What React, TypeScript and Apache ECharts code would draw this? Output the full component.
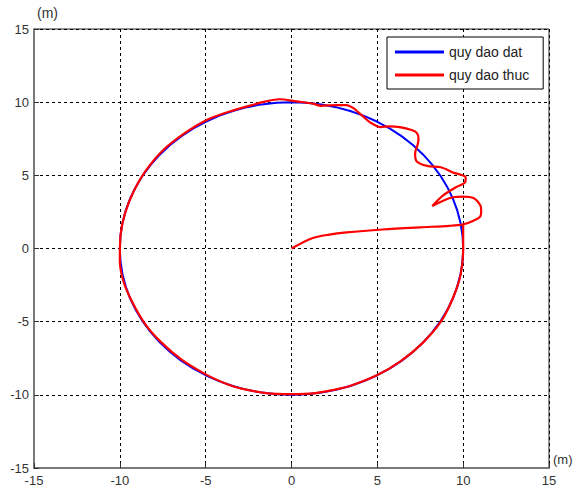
import React, { useEffect, useRef } from "react";
import * as echarts from "echarts";

// Axis ticks
const xTicks = [-15, -10, -5, 0, 5, 10, 15];
const yTicks = [-15, -10, -5, 0, 5, 10, 15];

// Desired trajectory "quy dao dat" (circle of radius 10, 5° steps)
const datX = [
  10, 9.962, 9.848, 9.659, 9.397, 9.063, 8.66, 8.192, 7.66, 7.071, 6.428, 5.736, 5.0, 4.226, 3.42, 2.588, 1.736, 0.872,
  0, -0.872, -1.736, -2.588, -3.42, -4.226, -5.0, -5.736, -6.428, -7.071, -7.66, -8.192, -8.66, -9.063, -9.397, -9.659, -9.848, -9.962,
  -10, -9.962, -9.848, -9.659, -9.397, -9.063, -8.66, -8.192, -7.66, -7.071, -6.428, -5.736, -5.0, -4.226, -3.42, -2.588, -1.736, -0.872,
  0, 0.872, 1.736, 2.588, 3.42, 4.226, 5.0, 5.736, 6.428, 7.071, 7.66, 8.192, 8.66, 9.063, 9.397, 9.659, 9.848, 9.962, 10,
];
const datY = [
  0, 0.872, 1.736, 2.588, 3.42, 4.226, 5.0, 5.736, 6.428, 7.071, 7.66, 8.192, 8.66, 9.063, 9.397, 9.659, 9.848, 9.962,
  10, 9.962, 9.848, 9.659, 9.397, 9.063, 8.66, 8.192, 7.66, 7.071, 6.428, 5.736, 5.0, 4.226, 3.42, 2.588, 1.736, 0.872,
  0, -0.872, -1.736, -2.588, -3.42, -4.226, -5.0, -5.736, -6.428, -7.071, -7.66, -8.192, -8.66, -9.063, -9.397, -9.659, -9.848, -9.962,
  -10, -9.962, -9.848, -9.659, -9.397, -9.063, -8.66, -8.192, -7.66, -7.071, -6.428, -5.736, -5.0, -4.226, -3.42, -2.588, -1.736, -0.872, 0,
];

// Actual trajectory "quy dao thuc"
const thucX = [
  0, 1.2, 2.2, 3.2, 5.3, 7.5, 9.2, 10.0, 10.6, 11.0, 11.05, 11.0, 10.6, 10.0, 9.4, 8.9, 8.2, 8.8, 9.6, 10.1, 10.15,
  9.4, 8.7, 7.9, 7.3, 7.2, 7.35, 7.4, 7.3, 7.0, 6.3, 5.7, 5.2, 4.6, 4.2, 3.9, 3.6, 3.2, 2.7, 1.7, 1.25, 0.3, -0.7,
  -1.5, -2.3, -3.5, -4.9, -6.2, -7.5, -8.5, -9.2, -9.7, -9.95, -10.0, -9.8, -9.3, -8.5, -7.6, -6.4, -5.0, -3.7, -3.0,
  -1.4, 0, 1.3, 2.5, 3.4, 5.0, 6.3, 7.6, 8.7, 9.4, 9.85, 10.0, 10.0, 10.0,
];
const thucY = [
  0, 0.7, 0.95, 1.1, 1.3, 1.45, 1.55, 1.65, 1.9, 2.2, 2.6, 2.95, 3.45, 3.55, 3.5, 3.3, 2.9, 3.6, 4.2, 4.5, 4.85,
  5.2, 5.55, 5.65, 5.95, 6.5, 7.1, 7.5, 7.9, 8.1, 8.3, 8.35, 8.3, 8.6, 9.0, 9.3, 9.6, 9.8, 9.8, 9.75, 9.9, 10.05, 10.2,
  10.05, 9.8, 9.4, 8.8, 7.9, 6.7, 5.3, 3.9, 2.4, 1.0, -0.8, -2.2, -3.6, -5.2, -6.4, -7.6, -8.6, -9.3, -9.55,
  -9.9, -9.95, -9.9, -9.65, -9.4, -8.65, -7.75, -6.5, -5.0, -3.4, -1.8, 0, 1.1, 1.6,
];

const seriesNames = ["quy dao dat", "quy dao thuc"];
const unitLabel = "(m)";

export default function App() {
  const ref = useRef<HTMLDivElement>(null);
  useEffect(() => {
    if (!ref.current) return;
    const chart = echarts.init(ref.current, undefined, { renderer: "svg" });
    const font = "'Liberation Sans', Arial, sans-serif";
    const axisCommon = {
      type: "value" as const,
      min: xTicks[0],
      max: xTicks[xTicks.length - 1],
      interval: 5,
      axisLine: { show: true, onZero: false, lineStyle: { color: "#7a7a7a", width: 2 } },
      axisTick: { show: true, inside: true, length: 5, lineStyle: { color: "#333" } },
      splitLine: { show: true, lineStyle: { color: "#000", type: [3, 3] as any, width: 1 } },
      axisLabel: { color: "#333", fontSize: 13, fontFamily: font },
    };
    chart.setOption({
      animation: false,
      backgroundColor: "#fff",
      grid: {
        left: 34,
        top: 29,
        width: 515,
        height: 439,
        show: true,
        borderColor: "#222",
        borderWidth: 1,
        containLabel: false,
      },
      xAxis: { ...axisCommon, axisLabel: { ...axisCommon.axisLabel, margin: 6 } },
      yAxis: {
        ...axisCommon,
        min: yTicks[0],
        max: yTicks[yTicks.length - 1],
        axisLabel: { ...axisCommon.axisLabel, margin: 5 },
      },
      legend: {
        orient: "vertical",
        left: 387,
        top: 37,
        padding: [8, 14, 7, 8],
        itemWidth: 49,
        itemHeight: 3,
        itemGap: 9,
        icon: "rect",
        borderColor: "#000",
        borderWidth: 1,
        backgroundColor: "#fff",
        textStyle: { color: "#222", fontSize: 14, fontFamily: font },
        data: seriesNames,
      },
      graphic: [
        {
          type: "text",
          left: 37,
          top: 6,
          style: { text: unitLabel, fill: "#333", fontSize: 14, fontFamily: font },
        },
        {
          type: "text",
          left: 553,
          top: 453,
          style: { text: unitLabel, fill: "#333", fontSize: 13, fontFamily: font },
        },
      ],
      series: [
        {
          name: seriesNames[0],
          type: "line",
          data: datX.map((x, i) => [x, datY[i]]),
          showSymbol: false,
          symbol: "none",
          smooth: false,
          lineStyle: { color: "#0000ff", width: 2 },
          itemStyle: { color: "#0000ff" },
        },
        {
          name: seriesNames[1],
          type: "line",
          data: thucX.map((x, i) => [x, thucY[i]]),
          showSymbol: false,
          symbol: "none",
          smooth: 0.3,
          lineStyle: { color: "#ff0000", width: 2.2 },
          itemStyle: { color: "#ff0000" },
        },
      ],
    });
    return () => chart.dispose();
  }, []);
  return (
    <div
      ref={ref}
      style={{ position: "fixed", left: 0, top: 0, width: 581, height: 493, background: "#fff" }}
    />
  );
}
